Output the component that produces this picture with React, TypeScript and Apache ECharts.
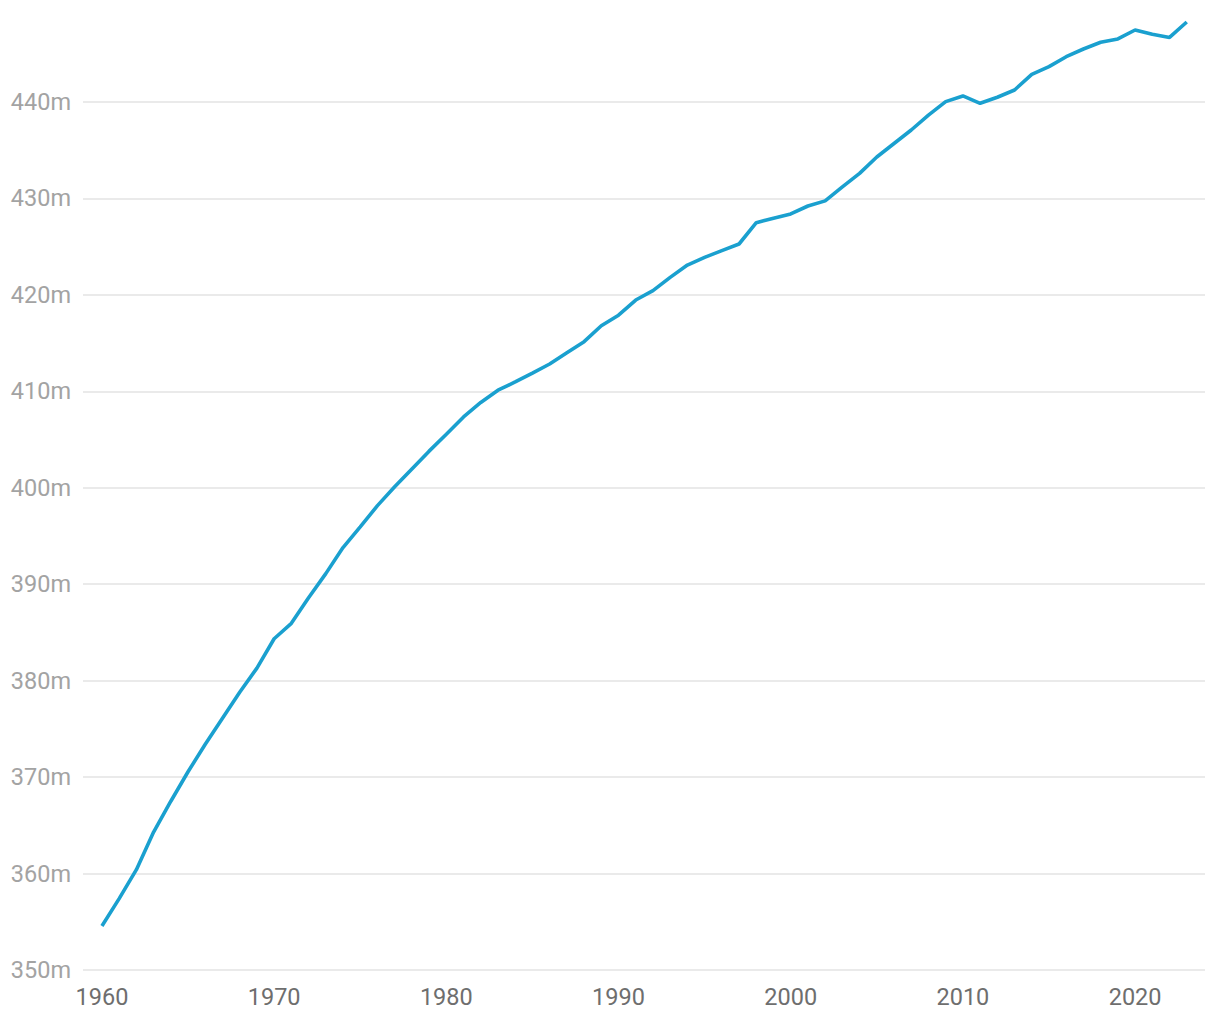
import React, { useEffect, useRef } from "react";
import * as echarts from "echarts";

const years: number[] = [
  1960, 1961, 1962, 1963, 1964, 1965, 1966, 1967, 1968, 1969,
  1970, 1971, 1972, 1973, 1974, 1975, 1976, 1977, 1978, 1979,
  1980, 1981, 1982, 1983, 1984, 1985, 1986, 1987, 1988, 1989,
  1990, 1991, 1992, 1993, 1994, 1995, 1996, 1997, 1998, 1999,
  2000, 2001, 2002, 2003, 2004, 2005, 2006, 2007, 2008, 2009,
  2010, 2011, 2012, 2013, 2014, 2015, 2016, 2017, 2018, 2019,
  2020, 2021, 2022, 2023,
];

// population in millions
const values: number[] = [
  354.56, 357.4, 360.4, 364.3, 367.5, 370.56, 373.4, 376.1, 378.8, 381.3,
  384.35, 385.95, 388.6, 391.1, 393.8, 395.95, 398.15, 400.1, 401.95, 403.8,
  405.55, 407.35, 408.85, 410.12, 410.98, 411.9, 412.84, 414.0, 415.15, 416.8,
  417.9, 419.47, 420.44, 421.82, 423.1, 423.9, 424.6, 425.28, 427.49, 427.95,
  428.4, 429.22, 429.75, 431.2, 432.6, 434.3, 435.7, 437.1, 438.65, 440.04,
  440.63, 439.87, 440.5, 441.25, 442.87, 443.67, 444.7, 445.5, 446.2, 446.54,
  447.47, 447.02, 446.7, 448.3,
];

const xTickValues: number[] = [1960, 1970, 1980, 1990, 2000, 2010, 2020];

export default function App() {
  const ref = useRef<HTMLDivElement>(null);

  useEffect(() => {
    if (!ref.current) return;
    const chart = echarts.init(ref.current, undefined, { renderer: "svg" });
    const seriesData = years.map((y, i) => [y, values[i]]);
    chart.setOption({
      animation: false,
      backgroundColor: "#ffffff",
      grid: { left: 83, right: 15, top: 5.6, bottom: 50, containLabel: false },
      xAxis: {
        type: "value",
        min: 1958.9,
        max: 2024.06,
        axisLine: { show: false },
        axisTick: { show: false },
        splitLine: { show: false },
        axisLabel: {
          customValues: xTickValues,
          formatter: (v: number) => String(v),
          color: "#6e6e6e",
          fontSize: 23.5,
          fontFamily: "Roboto",
          margin: 15,
        },
      },
      yAxis: {
        type: "value",
        min: 350,
        max: 450,
        interval: 10,
        axisLine: { show: false },
        axisTick: { show: false },
        splitLine: {
          show: true,
          showMinLine: true,
          showMaxLine: false,
          lineStyle: { color: "#e3e3e3", width: 1.5 },
        },
        axisLabel: {
          showMaxLabel: false,
          formatter: (v: number) => `${v}m`,
          color: "#a3a3a3",
          fontSize: 23.5,
          fontFamily: "Roboto",
          margin: 12,
        },
      },
      series: [
        {
          type: "line",
          data: seriesData,
          showSymbol: false,
          symbol: "none",
          lineStyle: { color: "#1aa0cf", width: 3.6 },
          itemStyle: { color: "#1aa0cf" },
        },
      ],
    });
    return () => chart.dispose();
  }, []);

  return (
    <div
      ref={ref}
      style={{ position: "absolute", left: 0, top: 0, width: 1220, height: 1020 }}
    />
  );
}
